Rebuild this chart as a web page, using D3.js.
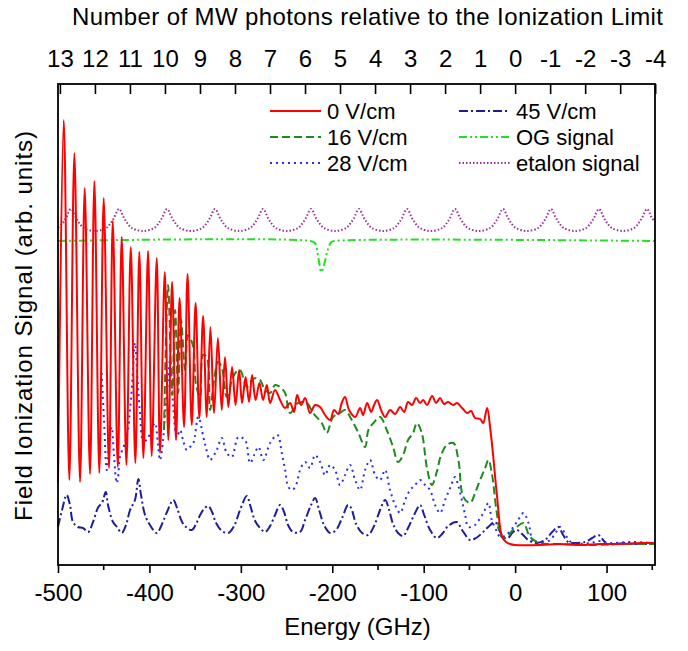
<!DOCTYPE html>
<html><head><meta charset="utf-8">
<script src="https://cdn.jsdelivr.net/npm/d3@7"></script>
<style>
body{margin:0;background:#fff}
text{font-family:"Liberation Sans",Arial,Helvetica,sans-serif;fill:#000}
</style>
</head><body>
<svg id="chart" width="688" height="651"></svg>
<script>
// ---------- data (x: energy in GHz, y: field ionization signal, arb. units) ----------
const energyTicks = [-500, -400, -300, -200, -100, 0, 100];
const photonNumbers = [13, 12, 11, 10, 9, 8, 7, 6, 5, 4, 3, 2, 1, 0, -1, -2, -3, -4];
const mwFrequencyGHz = 38.3;
const legendNames = ["0 V/cm", "16 V/cm", "28 V/cm", "45 V/cm", "OG signal", "etalon signal"];

const e0V = [-500,-493.7,-487.6,-482.1,-475.9,-470.8,-465.0,-460.2,-454.8,-450.0,-444.2,-440.1,-434.6,-430.3,-425.2,-420.4,-415.4,-411.0,-406.6,-401.5,-397.5,-392.0,-388.4,-383.2,-379.3,-375.2,-370.9,-367.0,-362.1,-358.3,-353.7,-349.5,-345.4,-341.3,-337.3,-333.3,-329.3,-325.1,-320.9,-317.3,-313.7,-309.6,-305.8,-301.9,-298.7,-294.8,-291.0,-287.7,-283.9,-279.7,-275.7,-271.6,-268.0,-262.6,-257.1,-251.6,-246.2,-241.8,-238.5,-234.1,-229.7,-224.3,-218.8,-213.3,-207.9,-202.4,-198.0,-193.6,-189.3,-186.0,-181.6,-175.0,-169.6,-166.3,-161.9,-157.5,-154.3,-151.0,-146.6,-142.2,-136.8,-131.3,-125.8,-121.4,-117.1,-112.7,-108.3,-103.9,-100.6,-96.3,-90.8,-86.4,-82.1,-77.7,-73.3,-67.8,-63.5,-58.0,-52.5,-48.1,-43.8,-38.3,-35.0,-30.6,-27.4,-24.1,-19.7,-14.2,-9.8,-5.5,0,27.4,49.2,71.1,93.0,114.9,136.8,153];
const s0V = [0.82,4.45,0.85,4.12,0.83,3.77,0.91,3.84,0.92,3.67,0.97,3.44,0.98,3.28,1.00,3.18,1.02,3.13,1.07,3.14,1.09,3.07,1.12,2.93,1.25,2.83,1.25,2.67,1.38,2.91,1.40,2.62,1.47,2.49,1.48,2.38,1.52,2.27,1.55,2.08,1.58,1.98,1.60,1.95,1.62,1.88,1.63,1.90,1.65,1.82,1.65,1.80,1.62,1.75,1.65,1.57,1.62,1.53,1.70,1.60,1.67,1.52,1.60,1.58,1.50,1.45,1.55,1.51,1.63,1.68,1.55,1.48,1.57,1.50,1.62,1.53,1.60,1.65,1.55,1.48,1.55,1.51,1.58,1.53,1.63,1.60,1.67,1.62,1.65,1.60,1.69,1.62,1.67,1.61,1.63,1.60,1.62,1.57,1.52,1.54,1.47,1.46,1.42,1.57,1.38,1.10,0.68,0.28,0.23,0.21,0.20,0.20,0.21,0.20,0.21,0.21,0.22,0.22];

const e16V = [-384.0,-379.6,-375.2,-371.9,-368.6,-365.4,-361.0,-357.7,-352.3,-349.0,-344.6,-341.3,-337.3,-333.7,-329.3,-324.9,-320.9,-315.4,-309.6,-305.3,-300.9,-293.5,-287.7,-283.3,-279.0,-273.5,-268.0,-262.6,-257.1,-251.6,-246.2,-237.4,-227.9,-221.0,-211.5,-206.0,-199.1,-191.5,-186.0,-178.7,-171.4,-164.1,-160.5,-155.0,-147.7,-140.4,-133.5,-128.0,-122.5,-117.1,-111.6,-107.5,-102.1,-96.6,-91.1,-85.7,-81.0,-74.7,-67.5,-62.0,-56.6,-49.2,-43.8,-38.3,-32.8,-29.2,-25.5,-20.0,-14.6,-9.1,-4.4,1.9,9.1,16.4,27.4,49.2,82.1,114.9,153];
const s16V = [1.35,2.80,1.70,2.55,1.72,2.45,1.95,2.30,2.19,1.80,1.68,2.10,2.08,1.55,1.85,2.03,1.98,1.68,1.85,1.93,1.95,1.78,1.85,1.87,1.85,1.75,1.72,1.80,1.78,1.72,1.52,1.62,1.62,1.52,1.42,1.32,1.48,1.52,1.55,1.45,1.32,1.18,1.35,1.42,1.48,1.35,1.18,1.03,1.10,1.25,1.32,1.42,1.32,0.98,0.80,0.93,1.10,1.20,1.22,1.05,0.68,0.62,0.72,0.85,0.97,1.05,0.92,0.52,0.28,0.27,0.33,0.38,0.42,0.28,0.22,0.21,0.20,0.21,0.21];

const e28V = [-452.2,-449.7,-446.7,-444.2,-441.3,-438.8,-435.8,-434.4,-432.2,-426.8,-423.5,-421.2,-419.0,-415.8,-413.0,-410.3,-406.7,-402.6,-399.4,-393.9,-390.6,-388.4,-385.1,-382.9,-379.6,-377.4,-373.9,-370.1,-366.5,-363.3,-359.2,-355.6,-352.0,-346.5,-341.0,-338.1,-333.7,-326.4,-320.9,-315.4,-309.9,-302.7,-295.4,-289.9,-285.5,-280.8,-275.3,-268.0,-260.0,-255.2,-251.6,-248.0,-243.9,-239.6,-235.2,-229.7,-224.3,-218.8,-213.3,-207.9,-202.4,-196.9,-191.5,-186.0,-180.5,-175.0,-169.6,-164.1,-158.6,-153.2,-147.7,-142.2,-136.8,-131.3,-125.8,-120.3,-114.9,-109.4,-103.9,-98.5,-93.0,-87.5,-82.1,-76.6,-71.1,-65.6,-62.4,-58.3,-54.7,-51.1,-43.8,-38.3,-34.7,-29.2,-25.5,-20.8,-16.4,-9.8,-1.9,3.3,9.1,14.6,20.0,27.4,38.3,44.8,49.2,56.6,62.4,82.1,93.0,103.9,125.8,153];
const s28V = [1.92,1.45,0.95,1.20,1.38,1.10,0.82,0.87,1.08,1.22,1.35,1.55,1.80,2.22,1.85,1.52,1.25,1.25,1.32,1.42,1.20,1.05,1.25,1.52,1.85,2.05,1.58,1.28,1.35,1.25,1.15,1.18,1.22,1.48,1.28,1.17,1.05,1.15,1.27,1.12,1.08,1.28,1.25,1.02,1.10,1.18,1.05,1.22,1.30,1.12,0.95,0.78,0.75,0.80,0.95,1.03,0.97,1.10,1.03,0.90,1.00,0.95,0.80,0.90,1.00,0.85,0.75,0.95,1.05,0.90,0.85,0.95,0.75,0.60,0.52,0.65,0.75,0.80,0.85,0.80,0.75,0.60,0.52,0.65,0.77,0.88,0.80,0.65,0.50,0.38,0.40,0.47,0.52,0.62,0.45,0.35,0.28,0.30,0.38,0.45,0.52,0.42,0.23,0.22,0.25,0.33,0.38,0.28,0.22,0.22,0.24,0.22,0.23,0.22];

const e45V = [-500,-495.6,-490.5,-486.9,-483.6,-478.1,-472.7,-466.9,-461.7,-455.9,-451.9,-447.8,-445.3,-439.8,-435.5,-430.3,-425.6,-421.2,-415.8,-412.1,-409.2,-404.8,-399.4,-392.0,-386.2,-380.8,-373.9,-369.8,-364.3,-360.0,-353.7,-349.0,-344.6,-340.3,-335.6,-331.5,-327.1,-320.6,-313.7,-307.4,-300.9,-293.5,-289.9,-284.4,-279.0,-273.5,-268.0,-262.6,-257.1,-252.7,-248.4,-242.9,-235.2,-229.7,-223.2,-218.8,-214.4,-209.0,-202.4,-195.9,-189.3,-182.7,-179.4,-173.9,-167.4,-160.8,-154.3,-147.7,-142.2,-137.8,-133.5,-128.0,-122.5,-117.1,-110.5,-103.9,-99.5,-93.0,-85.7,-79.9,-73.3,-63.8,-58.0,-49.2,-42.7,-36.1,-29.5,-21.9,-17.5,-12.8,-7.7,-3.3,1.9,7.7,14.2,23.7,32.8,40.5,47.4,52.5,58.0,63.8,76.6,84.3,91.1,96.3,100.3,109.4,120.3,125.8,132.4,142.2,153];
const s45V = [0.38,0.55,0.70,0.60,0.43,0.38,0.37,0.33,0.43,0.58,0.62,0.73,0.60,0.43,0.38,0.32,0.40,0.55,0.65,0.86,0.70,0.50,0.40,0.32,0.41,0.53,0.65,0.57,0.43,0.38,0.35,0.41,0.50,0.56,0.59,0.53,0.42,0.34,0.32,0.39,0.55,0.69,0.60,0.44,0.37,0.33,0.39,0.50,0.60,0.53,0.40,0.33,0.33,0.45,0.60,0.67,0.55,0.40,0.32,0.35,0.47,0.60,0.57,0.41,0.32,0.30,0.39,0.55,0.65,0.55,0.41,0.32,0.29,0.37,0.50,0.60,0.50,0.35,0.27,0.31,0.39,0.43,0.35,0.25,0.27,0.32,0.38,0.43,0.35,0.28,0.27,0.32,0.35,0.31,0.25,0.22,0.25,0.33,0.38,0.30,0.23,0.22,0.23,0.27,0.30,0.25,0.21,0.21,0.22,0.22,0.21,0.21,0.21];

const eOG = [-500,-224,-219,-215,-212,-209,-205,-201,-198,153];
const sOG = [3.24,3.24,3.22,3.06,2.93,3.00,3.15,3.23,3.24,3.24];

const eEtalon = [-499.8,-494.8,-491.3,-485.8,-480.3,-476.8,-471.8,-459.5,
 -447.3,-442.3,-438.8,-433.3,-427.8,-424.3,-419.3,-407.0,
 -394.8,-389.8,-386.3,-380.8,-375.3,-371.8,-366.8,-354.5,
 -342.3,-337.3,-333.8,-328.3,-322.8,-319.3,-314.3,-302.0,
 -289.8,-284.8,-281.3,-275.8,-270.3,-266.8,-261.8,-249.5,
 -237.3,-232.3,-228.8,-223.3,-217.8,-214.3,-209.3,-197.0,
 -184.8,-179.8,-176.3,-170.8,-165.3,-161.8,-156.8,-144.5,
 -132.3,-127.3,-123.8,-118.3,-112.8,-109.3,-104.3,-92.0,
 -79.8,-74.8,-71.3,-65.8,-60.3,-56.8,-51.8,-39.5,
 -27.3,-22.3,-18.8,-13.3,-7.8,-4.3,0.7,13.0,
 25.2,30.2,33.7,39.2,44.7,48.2,53.2,65.5,
 77.7,82.7,86.2,91.7,97.2,100.7,105.7,118.0,
 130.2,135.2,138.7,144.2,149.7,153];
const sEtalon = [3.37,3.42,3.47,3.56,3.47,3.42,3.37,3.34,
 3.37,3.42,3.47,3.56,3.47,3.42,3.37,3.34,
 3.37,3.42,3.47,3.56,3.47,3.42,3.37,3.34,
 3.37,3.42,3.47,3.56,3.47,3.42,3.37,3.34,
 3.37,3.42,3.47,3.56,3.47,3.42,3.37,3.34,
 3.37,3.42,3.47,3.56,3.47,3.42,3.37,3.34,
 3.37,3.42,3.47,3.56,3.47,3.42,3.37,3.34,
 3.37,3.42,3.47,3.56,3.47,3.42,3.37,3.34,
 3.37,3.42,3.47,3.56,3.47,3.42,3.37,3.34,
 3.37,3.42,3.47,3.56,3.47,3.42,3.37,3.34,
 3.37,3.42,3.47,3.56,3.47,3.42,3.37,3.34,
 3.37,3.42,3.47,3.56,3.47,3.42,3.37,3.34,
 3.37,3.42,3.47,3.56,3.47,3.43];

// ---------- layout ----------
const svg = d3.select("#chart");
const FONT = '"Liberation Sans",Arial,sans-serif';
const L = 58, R = 655, T = 84, B = 565;
const x = d3.scaleLinear().domain([-500, 153]).range([L, R]);
const y = d3.scaleLinear().domain([0, 4.81]).range([B, T]);

const series = [
  {name: legendNames[5], e: eEtalon, s: sEtalon, color: "#9b2f9b", w: 2, dash: "1.5,2"},
  {name: legendNames[4], e: eOG, s: sOG, color: "#22e022", w: 2, dash: "8,3,2,3,2,3"},
  {name: legendNames[3], e: e45V, s: s45V, color: "#1c1ca0", w: 2, dash: "9,3,2,3"},
  {name: legendNames[2], e: e28V, s: s28V, color: "#2030ff", w: 2, dash: "2,4"},
  {name: legendNames[1], e: e16V, s: s16V, color: "#1f8a1f", w: 2, dash: "8,4"},
  {name: legendNames[0], e: e0V, s: s0V, color: "#ff0000", w: 2, dash: null}
];

const line = d3.line().x(d => x(d[0])).y(d => y(d[1])).curve(d3.curveCatmullRom.alpha(0.5));
const gData = svg.append("g");
series.forEach(sr => {
  const pts = sr.e.map((v, i) => [v, sr.s[i]]);
  gData.append("path").attr("d", line(pts)).attr("fill", "none")
    .attr("stroke", sr.color).attr("stroke-width", sr.w)
    .attr("stroke-dasharray", sr.dash).attr("stroke-linejoin", "round");
});

// frame
svg.append("rect").attr("x", L).attr("y", T).attr("width", R - L).attr("height", B - T)
  .attr("fill", "none").attr("stroke", "#000").attr("stroke-width", 1.8);

// bottom axis
const axBottom = svg.append("g").attr("transform", `translate(0,${B})`)
  .call(d3.axisBottom(x).tickValues(energyTicks).tickSize(8).tickFormat(d => String(d)));
axBottom.select(".domain").remove();
axBottom.selectAll("line").attr("stroke-width", 1.6);
axBottom.selectAll("text").attr("font-size", 24).attr("dy", null).attr("y", 36)
  .attr("font-family", FONT);
const minorTicks = energyTicks.map(v => v + 50);
svg.append("g").selectAll("line").data(minorTicks).join("line")
  .attr("x1", d => x(d)).attr("x2", d => x(d)).attr("y1", B).attr("y2", B + 5)
  .attr("stroke", "#000").attr("stroke-width", 1.6);

// top axis (photon numbers)
const axTop = svg.append("g").attr("transform", `translate(0,${T})`)
  .call(d3.axisTop(x).tickValues(photonNumbers.map(n => -n * mwFrequencyGHz))
    .tickSize(-10).tickFormat((d, i) => String(photonNumbers[i])));
axTop.select(".domain").remove();
axTop.selectAll("line").attr("stroke-width", 1.6);
axTop.selectAll("text").attr("font-size", 24).attr("y", -17)
  .attr("font-family", FONT);

// titles
svg.append("text").attr("x", 367.5).attr("y", 25).attr("text-anchor", "middle")
  .attr("font-size", 24).attr("textLength", 591).attr("lengthAdjust", "spacing")
  .text("Number of MW photons relative to the Ionization Limit");
svg.append("text").attr("x", 357.5).attr("y", 635).attr("text-anchor", "middle")
  .attr("font-size", 24).text("Energy (GHz)");
svg.append("text").attr("transform", "translate(32,326) rotate(-90)").attr("text-anchor", "middle")
  .attr("font-size", 24).attr("textLength", 390).attr("lengthAdjust", "spacing")
  .text("Field Ionization Signal (arb. units)");

// legend
const legendOrder = [5, 4, 3, 2, 1, 0];
const lg = svg.append("g");
legendOrder.forEach((si, k) => {
  const sr = series[si];
  const col = Math.floor(k / 3), row = k % 3;
  const lx = col === 0 ? 270 : 459, ly = 111 + row * 26;
  lg.append("line").attr("x1", lx).attr("x2", lx + 51).attr("y1", ly).attr("y2", ly)
    .attr("stroke", sr.color).attr("stroke-width", 2).attr("stroke-dasharray", sr.dash);
  lg.append("text").attr("x", lx + 57).attr("y", ly + 8).attr("font-size", 22).text(sr.name);
});
</script>
</body></html>
